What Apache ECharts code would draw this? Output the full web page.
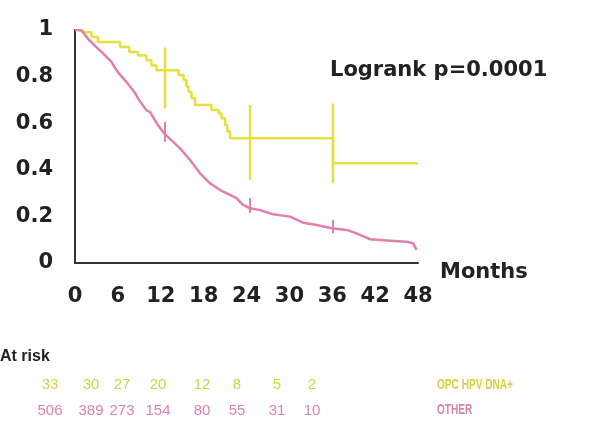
<!DOCTYPE html>
<html>
<head>
<meta charset="utf-8">
<script src="https://cdn.jsdelivr.net/npm/echarts@6/dist/echarts.min.js"></script>
<style>html,body{margin:0;padding:0;background:#fff}#c{width:590px;height:423px}</style>
</head>
<body>
<div id="c"></div>
<script>
// Kaplan-Meier: OPC HPV DNA+ (step curve)
const hpvMonths = [0, 1.1, 2.3, 3.2, 6.3, 7.6, 8.8, 10.0, 10.7, 11.4, 14.5, 15.2, 15.6, 15.9, 16.3, 16.8, 19.1, 20.1, 20.5, 21.0, 21.3, 21.7, 36.1, 48];
const hpvSurv   = [1.0, 0.99, 0.97, 0.948, 0.927, 0.906, 0.891, 0.87, 0.848, 0.827, 0.807, 0.785, 0.757, 0.735, 0.707, 0.678, 0.657, 0.642, 0.621, 0.592, 0.564, 0.535, 0.428, 0.428];
// OTHER
const otherMonths = [0, 0.7, 1.1, 1.8, 2.5, 3.2, 3.7, 4.2, 5.1, 6.0, 7.2, 8.3, 9.0, 10.0, 10.5, 11.6, 12.5, 13.3, 14.7, 16.1, 17.5, 18.9, 20.3, 21.7, 22.6, 23.5, 24.5, 25.9, 27.7, 30.1, 31.9, 33.8, 35.9, 38.0, 39.4, 41.3, 44.1, 46.4, 47.3, 47.8];
const otherSurv   = [1.0, 1.0, 0.991, 0.963, 0.941, 0.92, 0.906, 0.891, 0.863, 0.818, 0.777, 0.734, 0.698, 0.655, 0.648, 0.592, 0.555, 0.533, 0.492, 0.442, 0.385, 0.342, 0.313, 0.292, 0.278, 0.249, 0.235, 0.227, 0.209, 0.199, 0.173, 0.163, 0.149, 0.142, 0.127, 0.102, 0.096, 0.091, 0.085, 0.056];
// confidence bars
const ciMonths = [12.6, 24.5, 36.1];
const hpvLo = [0.663, 0.356, 0.342];
const hpvHi = [0.925, 0.678, 0.685];
const otherLo = [0.52, 0.215, 0.128];
const otherHi = [0.606, 0.279, 0.185];
// at risk table
const atRiskHpv = [33, 30, 27, 20, 12, 8, 5, 2];
const atRiskOther = [506, 389, 273, 154, 80, 55, 31, 10];
const groupNames = ['OPC HPV DNA+', 'OTHER'];
const pValueText = 'Logrank p=0.0001';

const YEL = '#e6e03c', PINK = '#e07fb0';
const YEL_T = '#d6d244', PINK_T = '#d884b3';
const tableX = [50, 91, 122, 158, 202, 237, 277, 312];

const chart = echarts.init(document.getElementById('c'));
const series = [];
series.push({type:'line', data: otherMonths.map((m,i)=>[m, otherSurv[i]]), showSymbol:false, symbol:'none',
  lineStyle:{color:PINK, width:2.5}, z:3});
series.push({type:'line', step:'end', data: hpvMonths.map((m,i)=>[m, hpvSurv[i]]), showSymbol:false, symbol:'none',
  lineStyle:{color:YEL, width:2.5}, z:2});
ciMonths.forEach((m,i)=>{
  series.push({type:'line', data:[[m,hpvLo[i]],[m,hpvHi[i]]], symbol:'none', lineStyle:{color:YEL, width:2.5}, z:2});
  series.push({type:'line', data:[[m,otherLo[i]],[m,otherHi[i]]], symbol:'none', lineStyle:{color:PINK, width:2}, z:3});
});

const graphic = [
  {type:'text', left:440, top:262, style:{text:'Months', font:'bold 21px "DejaVu Sans"', fill:'#222'}},
  {type:'text', left:330, top:60, style:{text:pValueText, font:'bold 21px "DejaVu Sans"', fill:'#222'}},
  {type:'text', x:0, y:349, style:{text:'At risk', font:'bold 16px "Liberation Sans"', fill:'#222'}},
  {type:'text', x:437, y:378, scaleX:0.72, style:{text:groupNames[0], font:'bold 14px "Liberation Sans"', fill:YEL_T}},
  {type:'text', x:437, y:403, scaleX:0.72, style:{text:groupNames[1], font:'bold 14px "Liberation Sans"', fill:PINK_T}}
];
atRiskHpv.forEach((v,i)=>graphic.push({type:'text', x:tableX[i], y:385, style:{text:String(v), align:'center', verticalAlign:'middle', font:'15px "Liberation Sans"', fill:YEL_T}}));
atRiskOther.forEach((v,i)=>graphic.push({type:'text', x:tableX[i], y:411, style:{text:String(v), align:'center', verticalAlign:'middle', font:'15px "Liberation Sans"', fill:PINK_T}}));

chart.setOption({
  animation:false,
  grid:{left:75, right:172, top:30, bottom:160, containLabel:false},
  xAxis:{type:'value', min:0, max:48, interval:6,
    axisLine:{show:true, lineStyle:{color:'#333', width:2}}, axisTick:{show:false}, splitLine:{show:false},
    axisLabel:{margin:23, fontFamily:'DejaVu Sans', fontWeight:'bold', fontSize:21, color:'#222'}},
  yAxis:{type:'value', min:0, max:1, interval:0.2,
    axisLine:{show:true, lineStyle:{color:'#333', width:2}}, axisTick:{show:false}, splitLine:{show:false},
    axisLabel:{margin:22, fontFamily:'DejaVu Sans', fontWeight:'bold', fontSize:21, color:'#222',
      padding:[4,0,0,0], formatter:v=>String(+v.toFixed(1))}},
  series:series,
  graphic:graphic
});
</script>
</body>
</html>
